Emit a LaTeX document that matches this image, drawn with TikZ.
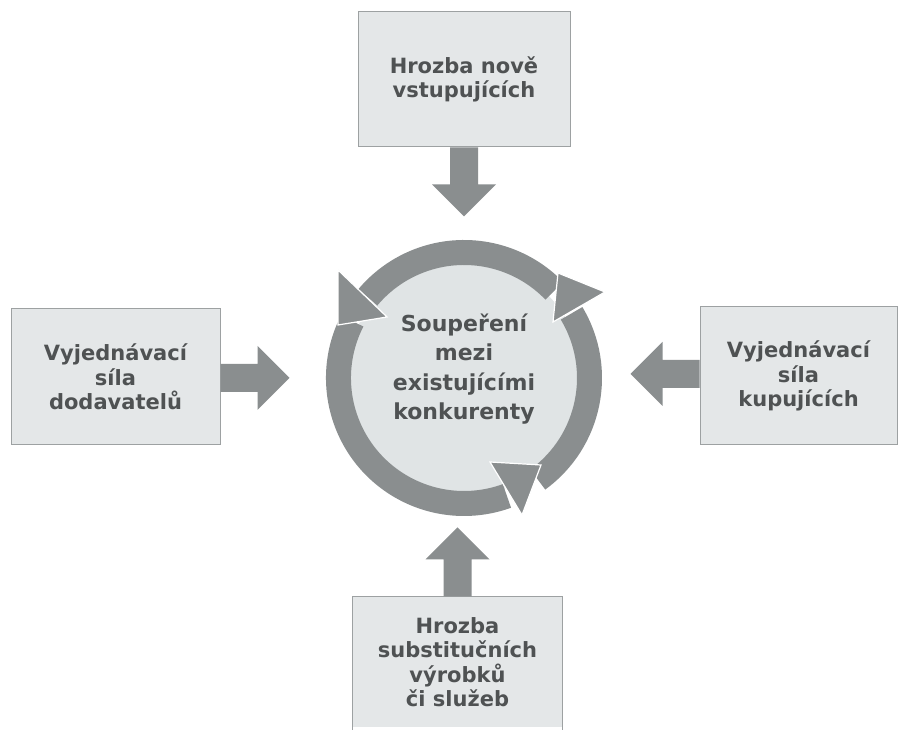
\documentclass[tikz,border=0pt]{standalone}
\usepackage{fontspec}
\setmainfont{DejaVu Sans}
\usetikzlibrary{calc}
\definecolor{ringgray}{HTML}{8A8E8F}
\definecolor{boxfill}{HTML}{E4E7E8}
\definecolor{boxline}{HTML}{9DA1A2}
\definecolor{txtgray}{HTML}{4F5253}
\definecolor{diskfill}{HTML}{E0E4E5}
\begin{document}
\begin{tikzpicture}[x=1pt,y=1pt,
  forcebox/.style={draw=boxline, line width=1pt, fill=boxfill, inner sep=0pt,
    align=center, font=\bfseries\fontsize{21}{24.5}\selectfont, text=txtgray},
  centertext/.style={align=center, inner sep=0pt,
    font=\bfseries\fontsize{22}{29.5}\selectfont, text=txtgray},
  ringarc/.style={draw=ringgray, line width=25pt},
  ringhead/.style={fill=ringgray, draw=white, line width=1.2pt},
  blockarrow/.pic={\fill[ringgray] (0,-14) -- (37,-14) -- (37,-32) -- (69,0)
    -- (37,32) -- (37,14) -- (0,14) -- cycle;}
]
\useasboundingbox (0,0) rectangle (898,730);
\clip (0,0) rectangle (898,730);
\fill[white] (0,0) rectangle (898,730);

% boxes
\node[forcebox, minimum width=212, minimum height=135] (top) at (464,650.5)
  {Hrozba nově\\vstupujících};
\node[forcebox, minimum width=209, minimum height=136] (left) at (115.5,353)
  {Vyjednávací\\síla\\dodavatelů};
\node[forcebox, minimum width=197, minimum height=138] (right) at (798.5,354)
  {Vyjednávací\\síla\\kupujících};
\node[forcebox, draw=none, minimum width=209, minimum height=130] (bottom) at (457.5,68)
  {Hrozba\\substitučních\\výrobků\\či služeb};
\draw[boxline, line width=1pt] ([yshift=-20]bottom.south west) -- (bottom.north west)
  -- (bottom.north east) -- ([yshift=-20]bottom.south east);

% block arrows
\pic[rotate=-90] at (top.south) {blockarrow};
\pic at ([yshift=-1]left.east) {blockarrow};
\pic[rotate=180] at ([yshift=2]right.west) {blockarrow};
\pic[rotate=90] at (bottom.north) {blockarrow};

% central cycle
\coordinate (c) at (464,352);
\fill[diskfill] (c) circle[radius=118];
\draw[ringarc] ([shift={(44:125.5)}]c) arc[start angle=44, end angle=140, radius=125.5];
\draw[ringarc] ([shift={(153:125.5)}]c) arc[start angle=153, end angle=290, radius=125.5];
\draw[ringarc] ([shift={(306:125.5)}]c) arc[start angle=306, end angle=391, radius=125.5];
\filldraw[ringhead] ($(c)+(-126,108)$) -- ($(c)+(-77,61)$) -- ($(c)+(-126,53)$) -- cycle;
\filldraw[ringhead] ($(c)+(26,-84)$) -- ($(c)+(58,-137)$) -- ($(c)+(77,-87)$) -- cycle;
\filldraw[ringhead] ($(c)+(141,86)$) -- ($(c)+(89,56)$) -- ($(c)+(94,105)$) -- cycle;

\node[centertext] (rivalry) at (464,361) {Soupeření\\mezi\\existujícími\\konkurenty};
\end{tikzpicture}
\end{document}
